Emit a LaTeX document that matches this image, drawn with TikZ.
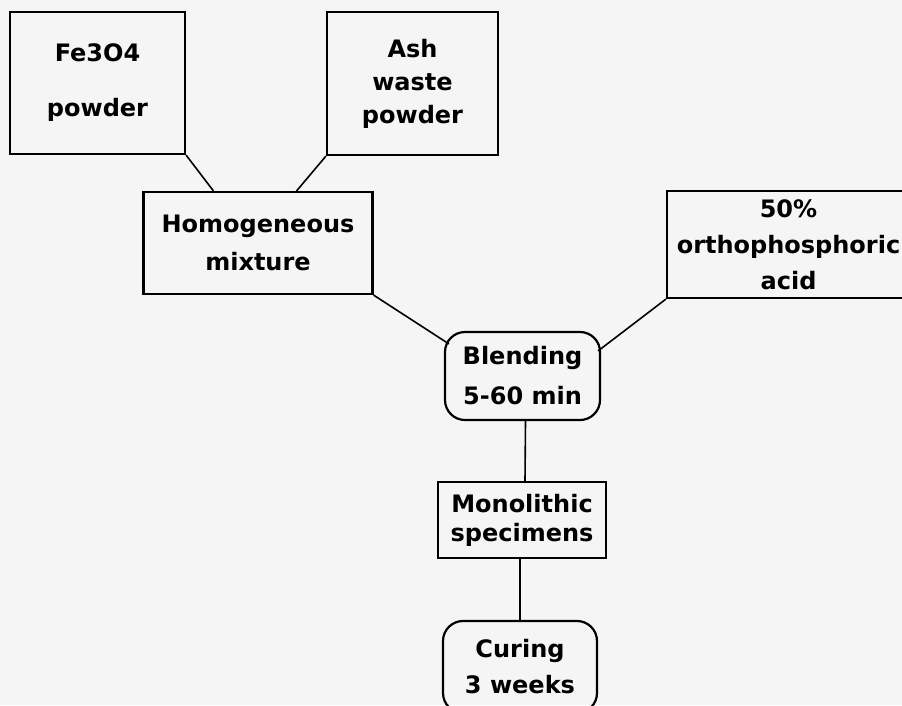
\documentclass[tikz,border=0pt]{standalone}
\usepackage{fontspec}
\setmainfont{DejaVu Sans}
\usetikzlibrary{calc}
\newcommand{\boxfont}[1]{\fontsize{24}{#1}\selectfont\bfseries}
\tikzset{
  box/.style      = {draw, line width=2.2pt, inner sep=0pt, align=center},
  roundbox/.style = {box, rounded corners=20pt},
  link/.style     = {line width=1.6pt},
}

\begin{document}
\begin{tikzpicture}[x=1pt, y=-1pt]
  % ---- page and background -----------------------------------------------
  \fill[black!4] (0,0) rectangle (902,705);
  \useasboundingbox (0,0) rectangle (902,705);
  \clip (0,0) rectangle (902,705);

  % ---- starting powders ----------------------------------------------------
  \node[box, minimum width=175pt, minimum height=142pt, font=\boxfont{55}]
       (fe) at (97.5,83) {Fe3O4\\powder};
  \node[box, minimum width=171pt, minimum height=143pt, font=\boxfont{33}]
       (ash) at (412.5,83.5) {Ash\\waste\\powder};
  \node[box, minimum width=229pt, minimum height=102pt, font=\boxfont{38}]
       (hom) at (258,243) {Homogeneous\\mixture};

  % ---- acid, running off the right edge ------------------------------------
  \node[box, minimum width=243pt, minimum height=107pt, font=\boxfont{36}]
       (acid) at (788.5,244.5) {50\%\\orthophosphoric\\acid};

  % ---- process steps -------------------------------------------------------
  \node[roundbox, minimum width=155pt, minimum height=88pt, font=\boxfont{40}]
       (blend) at (522.5,376) {Blending\\5-60 min};
  \node[box, minimum width=168pt, minimum height=76pt, font=\boxfont{29}]
       (mono) at (522,520) {Monolithic\\specimens};
  \node[roundbox, minimum width=154pt, minimum height=92pt, font=\boxfont{36}]
       (cure) at (520,667) {Curing\\3 weeks};

  % ---- connectors ----------------------------------------------------------
  \draw[link] (fe.south east) -- ([xshift=71pt]hom.north west);
  \draw[link] (ash.south west) -- ([xshift=-77pt]hom.north east);
  \draw[link] (hom.south east) -- ([shift={(5pt,-13pt)}]blend.north west);
  \draw[link] (acid.south west) -- ([shift={(-3pt,-20pt)}]blend.north east);
  \draw[link] ([xshift=3pt]blend.south) -- ([xshift=3pt]mono.north);
  \draw[link] ([xshift=-2pt]mono.south) -- (cure.north);
\end{tikzpicture}
\end{document}
